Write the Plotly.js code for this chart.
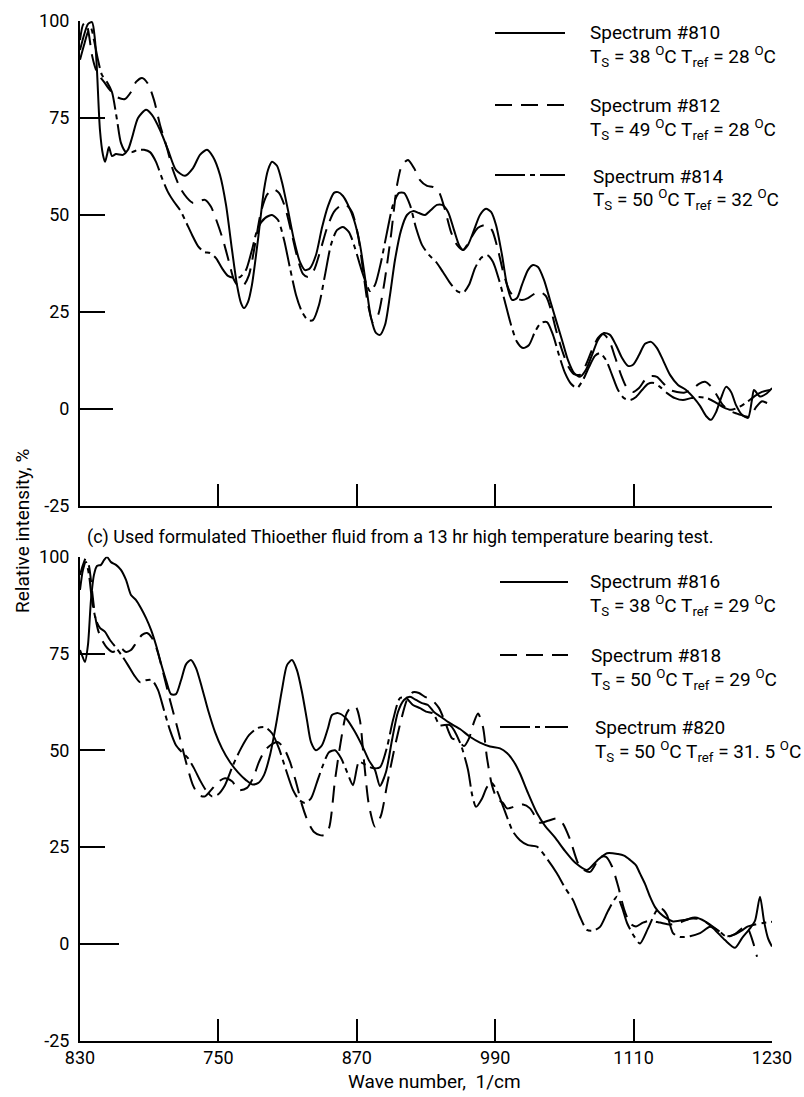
<!DOCTYPE html>
<html>
<head>
<meta charset="utf-8">
<script src="https://cdn.plot.ly/plotly-3.0.1.min.js"></script>
<style>html,body{margin:0;padding:0;background:#fff}#chart{width:804px;height:1097px}</style>
</head>
<body>
<div id="chart"></div>
<script>
// ---------- DATA (wave number, relative intensity %) ----------
// Upper panel
const top810_x = [630,633.5,636.9,640.4,643,644.7,647.3,649.9,651.7,653.4,655.1,657.7,661.2,667.3,671.6,675.1,680.3,687.2,692.4,699.4,706.3,713.2,721,728,734,740.1,745.3,751.4,756.6,761.8,766.1,769.6,772.2,775.7,779.1,784.3,789.5,793,796.5,800.8,805.1,810.3,815.5,820.7,825.1,829.4,834.6,839.8,845,850.2,853.7,858,862.4,867.6,872.8,878,882.3,886.6,890.1,894.5,898.8,903.1,908.4,913.5,918.7,923.9,929.1,934.3,939.5,943.9,949.1,954.3,958.6,962.1,966.4,971.6,976.8,982,986.4,990.7,995.9,1000.2,1004.6,1008.9,1013.2,1018.4,1022.8,1027.1,1032.3,1037.5,1042.7,1047.9,1053.1,1058.3,1063.5,1068.7,1073.9,1079.1,1084.3,1089.5,1094.7,1099.9,1105.1,1109.5,1114.7,1119.9,1125.1,1130.3,1135.5,1141.6,1148.5,1155.5,1162.4,1167.6,1172.8,1177.1,1181.5,1185.8,1190.1,1194.5,1198.8,1204,1209.2,1212.6,1214.4,1219.6,1225.4,1230];
const top810_y = [92.5,96.4,99.2,99.7,95.1,87.4,71.9,65.5,63.7,65.5,67.5,65.2,65.7,65.5,66.8,69.9,75,77.1,75.8,71.9,66.8,61.6,60.1,62.1,65.5,66.8,65,60.3,52.6,41,32,27.3,26,27.6,32,43.6,56.4,61.6,63.7,62.7,58.5,51.3,43.6,37.9,35.8,36.3,39.7,46.7,52.3,55.7,55.9,54.9,52.6,48.7,42.3,32,23.5,19.6,19.1,21.7,29.4,38.4,46.1,50,51,50.5,50,51.3,52.6,52.6,50.8,46.1,42.3,41,42.3,46.1,50,51.6,50.8,47.4,39.7,32,28.1,28.6,32,35.8,37.1,36.6,33.3,28.1,22.9,17.8,12.6,9.3,8.3,10.1,13.9,17.8,19.6,19.1,16.5,13.2,11.1,11.4,13.9,16.8,17.3,15.7,12.6,8.8,6.2,4.9,2.8,0.8,-1.8,-2.8,-0.8,2.8,5.7,4.4,1,-1.5,-2.3,2.3,4.9,3.2,4,5.4];

const top812_x = [630,632.6,635.2,637.8,640.4,643.9,647.3,650.8,656,662,669,674.2,678.6,683.8,689,694.2,699.4,705.4,710.6,716.8,722.8,728,733.2,738.4,743.6,748.8,754,759.2,763.5,767.9,772.2,776.5,781.7,786.9,792.1,797.3,802.5,807.7,813.8,819,823.3,827.7,832.9,838.1,844.2,850.2,855.4,860.6,865.8,871,875.4,879.7,884,888.4,893.6,899.7,904.9,909.2,914.4,919.6,924.8,930.9,936.1,941.3,946.5,951.7,956.9,962.1,968.1,975.1,982,987.2,992.4,997.6,1002.8,1008,1013.2,1018.4,1023.6,1028.8,1034,1038.4,1042.7,1047.9,1053.1,1058.3,1063.5,1068.7,1073.9,1079.1,1083.4,1088.6,1093.9,1099.1,1104.3,1109.5,1114.7,1119.9,1125.1,1130.3,1135.5,1141.6,1147.6,1153.7,1160.6,1166.7,1171.9,1177.1,1182.3,1187.5,1193.6,1199.6,1205.7,1210.9,1216.2,1221.4,1226.6,1230];
const top812_y = [95.1,99,99.7,96.4,91.2,87.4,85.6,84.3,82.2,80.4,79.9,81.7,84.3,85.3,83.8,79.6,73.2,67.3,61.6,57,54.4,53.1,53.6,53.9,52.1,48.2,43.6,37.9,33.3,31.5,32,34.5,42.3,50.8,55.2,56.7,55.7,52.1,44.9,38.4,34.8,34,35.8,40.5,46.7,50.8,52.3,52.6,50.8,44.9,35.8,26.9,22.4,24.2,32,44.9,57.7,62.9,64.2,62.1,59,57.5,57.2,55.9,51.3,45.6,42.3,41,43.6,46.7,47.4,46.1,41,34.5,30.2,28.6,28.1,28.6,29.6,30.2,29.1,25.5,20.4,15.2,11.1,9,8.8,11.4,15.2,18.3,19.3,17.8,13.4,8.8,5.4,4.4,5.4,7.5,8.5,8.3,6.7,4.9,4.4,4.2,5,6.5,7,5.8,3.5,1,-0.5,-1.2,-1.8,-2,0.5,2,1.5,2.3];

const top814_x = [630,633.5,636.9,639.5,642.1,645.6,649,653.4,657.7,662.1,665.5,669.9,675.1,680.3,685.5,690.7,695.9,701.1,706.3,711.5,716.7,721.9,727.1,732.3,737.5,742.7,747.9,753.1,758.3,763.5,768.7,773.9,779.1,784.3,790.4,796.5,801.7,806.9,812.1,817.3,822.5,827.7,832,837.2,842.4,847.6,852.8,858,863.2,868.4,873.6,878,881.4,885.8,891,896.2,901.4,906.6,910.9,916.1,921.3,926.5,932.6,938.7,944.7,950.8,956.9,962.1,967.3,972.5,977.7,982.9,988.1,993.3,998.5,1003.7,1008.9,1014.1,1019.3,1024.5,1029.7,1034.9,1040.1,1045.3,1050.5,1055.7,1060.9,1066.1,1071.3,1076.5,1080.9,1086.1,1091.3,1096.5,1101.7,1106.9,1112.1,1117.3,1122.5,1127.7,1132.9,1139,1145.9,1152.8,1159.8,1166.7,1173.6,1180.6,1187.5,1194.5,1201.4,1208.3,1215.3,1221.3,1228.3];
const top814_y = [90,93.8,97.2,98.2,95.1,90,86.1,84.3,81.7,74.5,68.6,66.2,66.2,66.8,66.8,66.2,63.7,59.5,55.9,53.4,51.3,48.2,44.9,42,40.5,40.2,38.9,36.3,34.3,33.8,34,35.8,41,46.7,49.2,50,48.7,43.6,36.3,29.4,25,22.9,22.9,26.8,34.5,42.3,46.1,46.9,45.6,41.5,36.3,32.5,30.4,32,37.9,45.6,52.6,55.7,55.7,52.6,46.7,42.3,39.7,37.9,35.3,32.5,30.4,29.9,32,36.3,38.9,39.7,37.9,33.3,27.6,21.7,17.3,15.7,16.5,19.9,22.2,22.4,19.1,13.9,9.3,6.5,5.4,7.5,10.8,13.7,14.4,12.6,8.8,4.9,2.8,2.3,3.1,4.9,6.5,6.7,5.7,4.1,2.8,2.3,2.8,3.1,2.8,1.8,0.5,-0.2,0.5,1.8,3.4,4.4,4.9];

// Lower panel
const bot816_x = [630,631.7,634.3,636.9,639.5,642.1,644.7,648.2,650.8,653.4,656.9,661.2,665.5,669.9,674.2,678.6,682.9,687.2,691.6,695.9,700.2,704.6,708.9,713.2,717.6,721.9,726.2,730.6,735.8,741,747.1,753.1,760.1,767,773.9,779.1,784.3,789.5,794.7,799.9,805.1,809.5,813.8,818.1,822.5,826.8,830.3,834.6,839.8,845,848.5,853.7,860.6,867.6,874.5,880.5,885.8,890.1,895.3,900.5,905.7,910.9,916.1,921.3,926.5,931.7,936.9,942.1,950.8,959.5,968.1,976.8,985.5,994.2,1000.2,1006.3,1011.5,1018.4,1026.2,1033.2,1041.8,1050.5,1059.2,1069.6,1078.3,1086.9,1096.5,1101.7,1106.9,1112.1,1115.5,1119.9,1124.2,1128.6,1132.9,1139,1144.2,1154.6,1163.2,1171.9,1180.6,1189.2,1197.9,1204,1210.9,1215.3,1219.6,1223,1226.5,1230];
const bot816_y = [75.9,74.6,72.8,77.2,88.8,95.3,97.6,97.9,99.1,99.9,98.6,97.9,96.6,94,90.1,88.8,86.7,84.2,81.1,77.2,72.5,68.1,64.5,64.5,68.1,72.2,73.3,71.2,66.1,60.4,54.7,50.5,46.9,44.3,42.3,41.2,41.5,43.6,48.7,56.5,65.6,72,73.3,70.7,65,57.8,52.1,50,51.3,55.7,59.1,59.6,58.3,55.2,51.3,47.4,44.9,40.8,44.4,52.6,59.9,63,63.8,63,62.2,61.7,59.9,58.8,57,55.5,53.5,52,51,50.5,49.3,47,44,39,33.8,30.5,27.5,24,21,19.1,21.5,23.4,23.2,22.8,21.7,20.3,18.2,15.5,12.2,9.5,7.9,6.5,5.8,6.2,6.8,5.8,3.6,1,-1,1.5,4,6,12.2,6,1.5,-0.7];

const bot818_x = [630,632.6,635.2,637.8,640.4,643,645.6,649,653.4,658.6,664.7,669.9,674.2,678.6,683.8,688.1,692.4,696.8,702,708,715,721.9,727.9,733.2,738.4,743.6,749.6,755.7,761.8,767.9,774.8,780,785.2,790.4,796.5,801.7,806.9,812.1,817.3,822.5,827.7,832.9,838.1,841.6,845.9,851.1,856.3,860.6,864.9,869.3,872.7,876.2,880.5,885.8,891,896.2,902.3,908.4,913.5,918.7,923.9,929.1,935.2,941.3,946.5,952.5,957.7,962.9,967.3,971.6,975.1,979.4,982.9,987.2,991.6,996.8,1000.2,1007.2,1014.1,1020.2,1028.8,1035.8,1043.6,1048.8,1054.9,1063.5,1072.2,1080.9,1086.1,1091.3,1096.5,1101.7,1106.9,1112.1,1118.1,1124.2,1132.9,1141.6,1150.2,1158.9,1167.6,1176.2,1183.2,1191,1197.9,1204,1208.3,1210.9,1214,1217];
const bot818_y = [95.3,97.9,99.7,97.6,91.4,84.9,81.1,78.5,76.5,75.4,76.5,75.4,75.9,77.7,79.8,80.3,79,75.9,70.2,63,55.2,47,41,38.4,38.1,39.7,41.8,42.8,42,39.7,40.3,42.8,47,50,51.6,52.1,50.5,47,41.8,35.9,31.5,28.9,28.1,28.1,29.9,42.3,52.6,59.1,61.1,61.1,57.8,47.4,35.9,30.3,33.2,41,50,57.8,63,65,64.8,63.8,63,60.9,57.3,53.1,52.6,51.1,53.1,57.3,59.5,56,48,41,37.5,36.4,35,35.5,36,35,31.3,31.8,32.4,31,27,19.9,18.6,22.4,22.5,20,15,9,5.3,4.5,5.5,6,5.5,5,5.5,6.5,6.4,5,3.5,2,2.5,4,4.4,2.8,0,-3.3];

const bot820_x = [630,632.6,635.2,637.8,640.4,643.9,647.3,651.7,656,661.2,666.4,671.6,676.9,682,687.2,692.4,697.6,702.8,708,713.2,718.4,723.6,728.8,734,739.2,744.4,749.6,755.7,762.7,769.6,776.5,783.5,790.4,796.5,802.5,808.6,814.7,819.9,825.1,830.3,835.5,840.7,845.9,851.1,856.3,861.5,866.7,871.9,877.9,884,890.1,896.2,901.4,907.5,912.7,918.7,924.8,930,936.1,942.1,950.8,959.5,966.4,970,973.4,978.5,982.9,987.2,991.6,996.8,1000.2,1005.4,1011.5,1018.4,1026.2,1034.9,1043.6,1050.5,1057.5,1063.5,1069.6,1075.7,1080.9,1087.8,1095.6,1099.9,1104.3,1110.4,1115.5,1122.5,1130.3,1134.6,1139,1144.2,1150.2,1158.9,1167.6,1176.2,1183.2,1191,1197.9,1204,1208.3,1215.3,1222.2,1230];
const bot820_y = [91.4,96.6,98.6,95.3,88.8,83.6,81.6,80.6,78.5,76.5,74.4,72,69.4,67.6,68.1,68.1,65.6,60.4,55.2,51.3,49.5,48,45.4,42.3,39.7,38.1,38.6,41,46.2,50.5,53.9,55.7,56,54.4,50.5,44.9,39.7,37.2,36.4,37.6,41.8,46.2,49.5,50,48,44.4,41,47,46.2,45.4,45.6,50.8,57.8,63.5,63.5,61.7,60.9,60,59.5,56.5,56.5,52,45,38.5,35.4,37.5,40.5,41.5,39.5,35.5,32.8,29,26.8,25.5,25.1,22,18.2,14.5,11.3,7,3.6,3.5,4.4,8.5,12.2,9.5,5.4,2,0.1,4,8.7,9,7.4,2.8,1.8,2,2.8,4.4,3.5,1.8,2.5,3.5,4.4,5,5.4,5.7];

// Tick values / labels
const xTickVals = [630, 750, 870, 990, 1110, 1230];
const xTickText = ['830', '750', '870', '990', '1110', '1230'];
const yTickVals = [-25, 0, 25, 50, 75, 100];
const yTickText = ['-25', '0', '25', '50', '75', '100'];

// ---------- STYLE ----------
const FONT = 'Roboto, "Liberation Sans", sans-serif';
const W = 804, H = 1097;
const px = v => v / W, py = v => 1 - v / H;
const DASH = '17px,9px';
const DASHDOT = '30px,5px,5px,5px';

function tr(x, y, dash, xa, ya) {
  return {x: x, y: y, xaxis: xa, yaxis: ya, type: 'scatter', mode: 'lines',
    line: {color: '#000', width: 2, dash: dash, shape: 'spline', smoothing: 0.7},
    hoverinfo: 'skip', showlegend: false};
}
const data = [
  tr(top810_x, top810_y, 'solid', 'x', 'y'),
  tr(top812_x, top812_y, DASH, 'x', 'y'),
  tr(top814_x, top814_y, DASHDOT, 'x', 'y'),
  tr(bot816_x, bot816_y, 'solid', 'x2', 'y2'),
  tr(bot818_x, bot818_y, DASH, 'x2', 'y2'),
  tr(bot820_x, bot820_y, DASHDOT, 'x2', 'y2')
];

const xBase = {range: [630, 1230], domain: [px(80), px(772)], showline: true, linewidth: 2, linecolor: '#000',
  ticks: 'inside', ticklen: 22, tickwidth: 2, tickcolor: '#000', showgrid: false, zeroline: false,
  tickfont: {family: FONT, size: 18, color: '#000'}, fixedrange: true};
const yBase = {range: [-25, 100], showline: true, linewidth: 2, linecolor: '#000',
  ticks: 'inside', ticklen: 25, tickwidth: 2, tickcolor: '#000', showgrid: false, zeroline: false,
  tickvals: yTickVals, ticktext: yTickText, ticklabelstandoff: 5,
  tickfont: {family: FONT, size: 18, color: '#000'}, fixedrange: true};

const layout = {
  width: W, height: H, margin: {l: 0, r: 0, t: 0, b: 0},
  paper_bgcolor: '#fff', plot_bgcolor: 'rgba(0,0,0,0)', showlegend: false,
  xaxis: Object.assign({}, xBase, {anchor: 'y', tickvals: xTickVals.slice(1), showticklabels: false}),
  yaxis: Object.assign({}, yBase, {anchor: 'x', domain: [py(506), py(21)]}),
  xaxis2: Object.assign({}, xBase, {anchor: 'y2', tickvals: xTickVals, ticktext: xTickText, ticklabelstandoff: 0}),
  yaxis2: Object.assign({}, yBase, {anchor: 'x2', domain: [py(1040.7), py(556.7)]}),
  shapes: [], annotations: []
};

// longer tick at zero
layout.shapes.push({type: 'line', xref: 'paper', yref: 'y', x0: px(80), x1: px(113), y0: 0, y1: 0, line: {color: '#000', width: 2}});
layout.shapes.push({type: 'line', xref: 'paper', yref: 'y2', x0: px(80), x1: px(119), y0: 0, y1: 0, line: {color: '#000', width: 2}});

// legend keys (decoration)
const keys = [
  {y: 33, x0: 495, x1: 565, dash: 'solid', l1: 'Spectrum #810', l2: 'T<sub>S</sub> = 38 <sup>O</sup>C T<sub>ref</sub> = 28 <sup>O</sup>C', tx: 588, ty1: 33, ty2: 57},
  {y: 105, x0: 495, x1: 565, dash: DASH, l1: 'Spectrum #812', l2: 'T<sub>S</sub> = 49 <sup>O</sup>C T<sub>ref</sub> = 28 <sup>O</sup>C', tx: 588, ty1: 105, ty2: 129},
  {y: 175, x0: 495, x1: 565, dash: DASHDOT, l1: 'Spectrum #814', l2: 'T<sub>S</sub> = 50 <sup>O</sup>C T<sub>ref</sub> = 32 <sup>O</sup>C', tx: 591, ty1: 176, ty2: 200},
  {y: 582, x0: 500, x1: 568, dash: 'solid', l1: 'Spectrum #816', l2: 'T<sub>S</sub> = 38 <sup>O</sup>C T<sub>ref</sub> = 29 <sup>O</sup>C', tx: 588, ty1: 581, ty2: 605},
  {y: 655, x0: 500, x1: 568, dash: DASH, l1: 'Spectrum #818', l2: 'T<sub>S</sub> = 50 <sup>O</sup>C T<sub>ref</sub> = 29 <sup>O</sup>C', tx: 589, ty1: 655, ty2: 679},
  {y: 727, x0: 500, x1: 568, dash: DASHDOT, l1: 'Spectrum #820', l2: 'T<sub>S</sub> = 50 <sup>O</sup>C T<sub>ref</sub> = 31. 5 <sup>O</sup>C', tx: 593, ty1: 727, ty2: 751}
];
keys.forEach(k => {
  layout.shapes.push({type: 'line', xref: 'paper', yref: 'paper', x0: px(k.x0), x1: px(k.x1), y0: py(k.y), y1: py(k.y), line: {color: '#000', width: 2, dash: k.dash}});
  layout.annotations.push({xref: 'paper', yref: 'paper', x: px(k.tx), y: py(k.ty1), xanchor: 'left', yanchor: 'middle', showarrow: false, text: k.l1, font: {family: FONT, size: 19, color: '#000'}});
  layout.annotations.push({xref: 'paper', yref: 'paper', x: px(k.tx), y: py(k.ty2), xanchor: 'left', yanchor: 'middle', showarrow: false, text: k.l2, font: {family: FONT, size: 19, color: '#000'}});
});

layout.annotations.push({xref: 'paper', yref: 'paper', x: px(400), y: py(537), xanchor: 'center', yanchor: 'middle', showarrow: false,
  text: '(c) Used formulated Thioether fluid from a 13 hr high temperature bearing test.', font: {family: FONT, size: 18, color: '#000'}});
layout.annotations.push({xref: 'paper', yref: 'paper', x: px(22), y: py(531), xanchor: 'center', yanchor: 'middle', showarrow: false, textangle: -90,
  text: 'Relative intensity, %', font: {family: FONT, size: 19, color: '#000'}});
layout.annotations.push({xref: 'paper', yref: 'paper', x: px(435), y: py(1081), xanchor: 'center', yanchor: 'middle', showarrow: false,
  text: 'Wave number,  1/cm', font: {family: FONT, size: 19, color: '#000'}});

Plotly.newPlot('chart', data, layout, {staticPlot: true, displayModeBar: false});
</script>
</body>
</html>
